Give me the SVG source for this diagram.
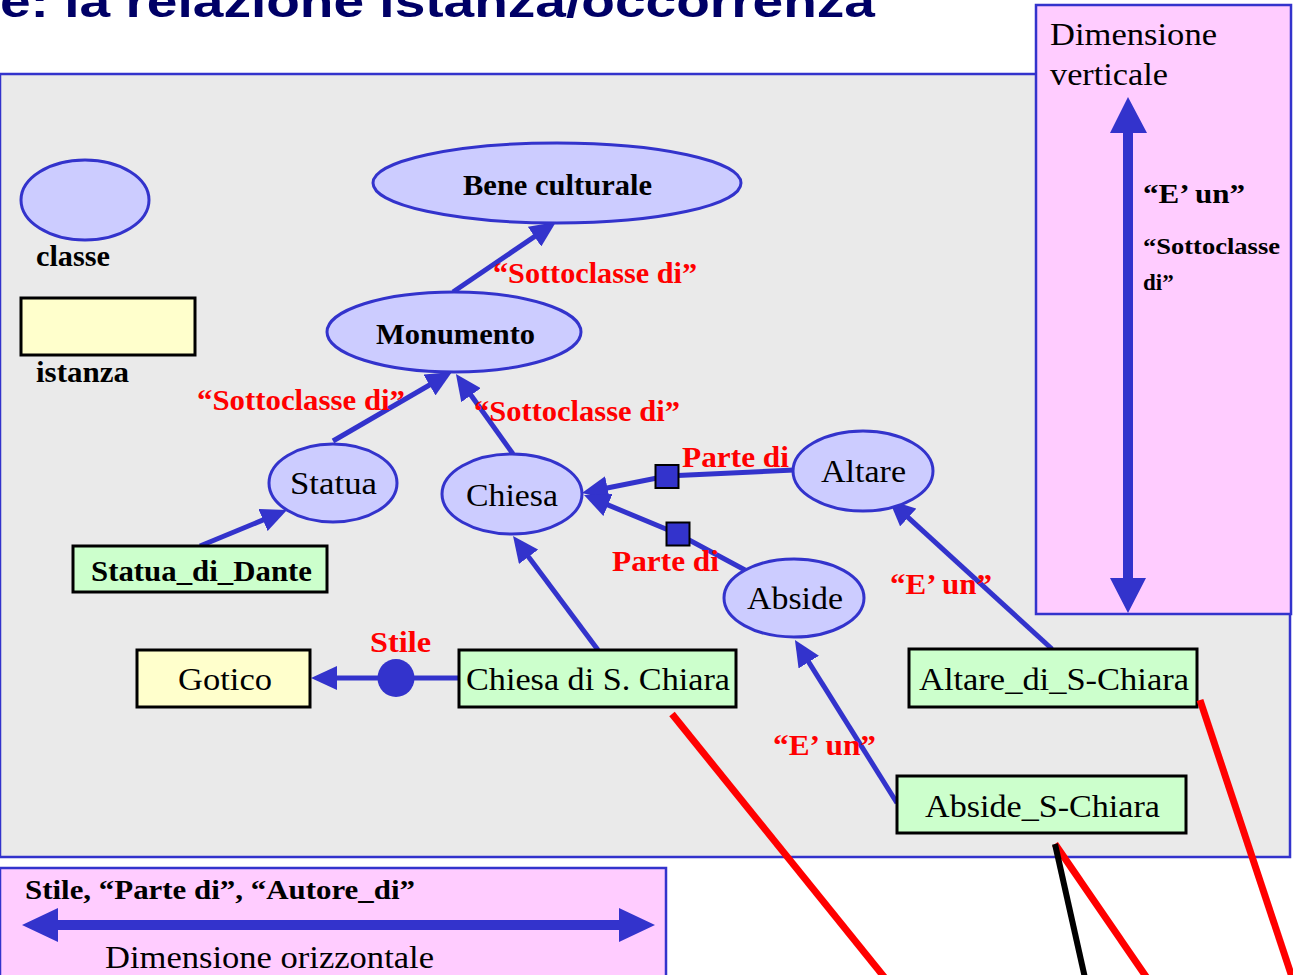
<svg xmlns="http://www.w3.org/2000/svg" width="1293" height="975" viewBox="0 0 1293 975">
<defs>
<style>
.cls{fill:#ccccff;stroke:#3333cc;stroke-width:3}
.inst{fill:#ccffcc;stroke:#000;stroke-width:3}
.yel{fill:#ffffcc;stroke:#000;stroke-width:3}
.t{font-family:"Liberation Serif","Times New Roman",serif;fill:#000}
.b{font-weight:bold}
.red{font-family:"Liberation Serif","Times New Roman",serif;font-weight:bold;fill:#ff0000;font-size:30px}
.edge{fill:none;stroke:#3333cc;stroke-width:5}
.sq{fill:#3333cc;stroke:#000;stroke-width:2}
.rl{stroke:#ff0000;stroke-width:7}
</style>
<marker id="ah" markerUnits="userSpaceOnUse" markerWidth="26" markerHeight="24" viewBox="0 0 26 24" refX="8" refY="12" orient="auto">
<path d="M0,0 L26,12 L0,24 z" fill="#3333cc"/>
</marker>
</defs>
<rect width="1293" height="975" fill="#ffffff"/>
<text x="0" y="17" font-family="Liberation Sans, Arial, sans-serif" font-size="44" font-weight="bold" fill="#000066" textLength="875" lengthAdjust="spacingAndGlyphs">e: la relazione istanza/occorrenza</text>

<g id="panel">
<rect x="0" y="74" width="1290" height="783" fill="#eaeaea" stroke="#3333cc" stroke-width="2.5"/>
</g>

<g id="vertical-dimension">
<rect x="1036" y="5" width="255" height="609" fill="#ffccff" stroke="#3333cc" stroke-width="2.5"/>
<text class="t" x="1050" y="45" font-size="31" textLength="167" lengthAdjust="spacingAndGlyphs">Dimensione</text>
<text class="t" x="1050" y="85" font-size="31" textLength="118" lengthAdjust="spacingAndGlyphs">verticale</text>
<path d="M1128,97 L1147,133 L1133,133 L1133,578 L1146,578 L1128,613 L1110,578 L1123,578 L1123,133 L1110,133 z" fill="#3333cc"/>
<text class="t b" x="1143" y="203" font-size="28" textLength="102" lengthAdjust="spacingAndGlyphs">“E’ un”</text>
<text class="t b" x="1143" y="254" font-size="23" textLength="137" lengthAdjust="spacingAndGlyphs">“Sottoclasse</text>
<text class="t b" x="1143" y="290" font-size="23">di”</text>
</g>

<g id="horizontal-dimension">
<rect x="0" y="868" width="666" height="120" fill="#ffccff" stroke="#3333cc" stroke-width="2.5"/>
<text class="t b" x="25" y="899" font-size="28" textLength="390" lengthAdjust="spacingAndGlyphs">Stile, “Parte di”, “Autore_di”</text>
<path d="M22,925 L58,908 L58,920 L619,920 L619,908 L655,925 L619,942 L619,930 L58,930 L58,942 z" fill="#3333cc"/>
<text class="t" x="105" y="968" font-size="31" textLength="329" lengthAdjust="spacingAndGlyphs">Dimensione orizzontale</text>
</g>

<g id="legend-classe">
<ellipse class="cls" cx="85" cy="200" rx="64" ry="40"/>
<text class="t b" x="36" y="266" font-size="30" textLength="74" lengthAdjust="spacingAndGlyphs">classe</text>
</g>
<g id="legend-istanza">
<rect class="yel" x="21" y="298" width="174" height="57"/>
<text class="t b" x="36" y="382" font-size="30" textLength="93" lengthAdjust="spacingAndGlyphs">istanza</text>
</g>

<g id="connectors">
<line class="edge" x1="453" y1="292" x2="541.1" y2="232.1" marker-end="url(#ah)"/>
<line class="edge" x1="333" y1="441" x2="436.4" y2="381" marker-end="url(#ah)"/>
<line class="edge" x1="513" y1="454" x2="466.4" y2="388.7" marker-end="url(#ah)"/>
<line class="edge" x1="200" y1="546" x2="270.4" y2="516.9" marker-end="url(#ah)"/>
<line class="edge" x1="598" y1="650" x2="523.8" y2="550.4" marker-end="url(#ah)"/>
<line class="edge" x1="459" y1="678" x2="329" y2="678" marker-end="url(#ah)"/>
<ellipse cx="396" cy="678" rx="18.5" ry="19" fill="#3333cc"/>
<polyline class="edge" points="794,470 667,476 599.6,489.5" marker-end="url(#ah)"/>
<polyline class="edge" points="745,570 678,534 600.6,501.9" marker-end="url(#ah)"/>
<rect class="sq" x="655.5" y="465" width="23" height="23"/>
<rect class="sq" x="666.5" y="522.5" width="23" height="23"/>
<line class="edge" x1="1052" y1="649" x2="902.3" y2="512.1" marker-end="url(#ah)"/>
<line class="edge" x1="897" y1="803" x2="804.5" y2="655.3" marker-end="url(#ah)"/>
<text class="red" x="493" y="283" textLength="204" lengthAdjust="spacingAndGlyphs">“Sottoclasse di”</text>
<text class="red" x="197" y="410" textLength="208" lengthAdjust="spacingAndGlyphs">“Sottoclasse di”</text>
<text class="red" x="474" y="421" textLength="206" lengthAdjust="spacingAndGlyphs">“Sottoclasse di”</text>
<text class="red" x="682" y="467" textLength="107" lengthAdjust="spacingAndGlyphs">Parte di</text>
<text class="red" x="612" y="571" textLength="107" lengthAdjust="spacingAndGlyphs">Parte di</text>
<text class="red" x="370" y="652" textLength="61" lengthAdjust="spacingAndGlyphs">Stile</text>
<text class="red" x="890" y="594" textLength="102" lengthAdjust="spacingAndGlyphs">“E’ un”</text>
<text class="red" x="773" y="755" textLength="103" lengthAdjust="spacingAndGlyphs">“E’ un”</text>
</g>

<g id="bene-culturale">
<ellipse class="cls" cx="557" cy="183" rx="184" ry="40"/>
<text class="t b" x="463" y="195" font-size="30" textLength="189" lengthAdjust="spacingAndGlyphs">Bene culturale</text>
</g>
<g id="monumento">
<ellipse class="cls" cx="454" cy="332" rx="127" ry="40"/>
<text class="t b" x="376" y="344" font-size="30" textLength="159" lengthAdjust="spacingAndGlyphs">Monumento</text>
</g>
<g id="statua">
<ellipse class="cls" cx="333" cy="483" rx="64" ry="39"/>
<text class="t" x="290" y="494" font-size="32" textLength="87" lengthAdjust="spacingAndGlyphs">Statua</text>
</g>
<g id="chiesa">
<ellipse class="cls" cx="512" cy="494" rx="70" ry="40"/>
<text class="t" x="466" y="506" font-size="32" textLength="92" lengthAdjust="spacingAndGlyphs">Chiesa</text>
</g>
<g id="altare">
<ellipse class="cls" cx="863" cy="471" rx="70" ry="40"/>
<text class="t" x="821" y="482" font-size="32" textLength="85" lengthAdjust="spacingAndGlyphs">Altare</text>
</g>
<g id="abside">
<ellipse class="cls" cx="794" cy="598" rx="70" ry="39"/>
<text class="t" x="747" y="609" font-size="32" textLength="96" lengthAdjust="spacingAndGlyphs">Abside</text>
</g>
<g id="statua-di-dante">
<rect class="inst" x="73" y="546" width="254" height="46"/>
<text class="t b" x="91" y="581" font-size="30" textLength="221" lengthAdjust="spacingAndGlyphs">Statua_di_Dante</text>
</g>
<g id="gotico">
<rect class="yel" x="137" y="650" width="173" height="57"/>
<text class="t" x="178" y="690" font-size="32" textLength="94" lengthAdjust="spacingAndGlyphs">Gotico</text>
</g>
<g id="chiesa-di-s-chiara">
<rect class="inst" x="459" y="650" width="277" height="57"/>
<text class="t" x="466" y="690" font-size="32" textLength="264" lengthAdjust="spacingAndGlyphs">Chiesa di S. Chiara</text>
</g>
<g id="altare-di-s-chiara">
<rect class="inst" x="909" y="649" width="288" height="58"/>
<text class="t" x="919" y="690" font-size="32" textLength="270" lengthAdjust="spacingAndGlyphs">Altare_di_S-Chiara</text>
</g>
<g id="abside-s-chiara">
<rect class="inst" x="897" y="776" width="289" height="57"/>
<text class="t" x="925" y="817" font-size="32" textLength="235" lengthAdjust="spacingAndGlyphs">Abside_S-Chiara</text>
</g>

<g id="pointer-lines">
<line class="rl" x1="672" y1="714" x2="885" y2="978"/>
<line class="rl" x1="1200" y1="700" x2="1293" y2="980"/>
<line class="rl" x1="1055" y1="844" x2="1147" y2="978"/>
<line x1="1055" y1="844" x2="1085" y2="978" stroke="#000" stroke-width="6"/>
</g>
</svg>
